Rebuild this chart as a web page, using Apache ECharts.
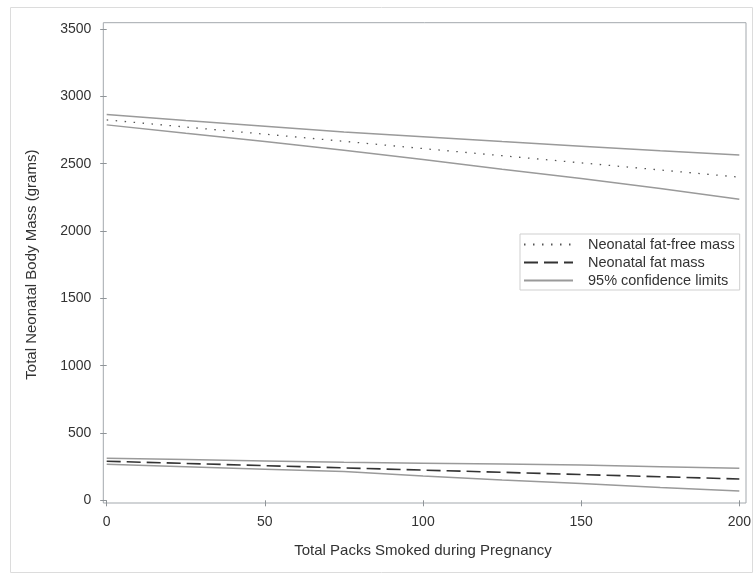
<!DOCTYPE html>
<html>
<head>
<meta charset="utf-8">
<script src="https://cdn.jsdelivr.net/npm/echarts@6/dist/echarts.min.js"></script>
<style>
  html, body { margin: 0; padding: 0; background: #fff; }
  #chart { width: 754px; height: 575px; }
</style>
</head>
<body>
<div id="chart"></div>
<script>
// packs smoked (x) and the estimated curves
var packs = [0, 25, 50, 75, 100, 125, 150, 175, 200];
var fatFree = [2825, 2772, 2719, 2666, 2612, 2559, 2506, 2453, 2400];
var fatFreeUpper = [2865, 2820, 2778, 2736, 2700, 2664, 2630, 2595, 2565];
var fatFreeLower = [2788, 2725, 2664, 2600, 2530, 2458, 2390, 2315, 2236];
var fat = [290, 274, 257, 241, 224, 208, 191, 175, 158];
var fatUpper = [312, 303, 292, 282, 276, 270, 262, 250, 238];
var fatLower = [267, 249, 231, 213, 180, 151, 125, 95, 69];

var xTicks = [0, 50, 100, 150, 200];
var yTicks = [0, 500, 1000, 1500, 2000, 2500, 3000, 3500];

function pairs(ys) {
  return packs.map(function (p, i) { return [p, ys[i]]; });
}

var txt = '#333';
var frame = '#a3a8ad';
var tick = '#8f9498';
var font = 'Liberation Sans, Arial, sans-serif';
var ciName = '95% confidence limits';

var myChart = echarts.init(document.getElementById('chart'));
var option = {
  animation: false,
  textStyle: { fontFamily: font },
  graphic: [{
    type: 'rect',
    shape: { x: 10.5, y: 7.5, width: 742, height: 565 },
    style: { fill: 'none', stroke: '#dcdcdc', lineWidth: 1 },
    silent: true
  }],
  grid: [
    { left: 106.7, right: 14, top: 29, bottom: 74.7 },
    { left: 103.3, right: 8, top: 22.7, bottom: 72, show: true, borderColor: frame, borderWidth: 1, backgroundColor: 'transparent' }
  ],
  legend: {
    left: 520, top: 234,
    orient: 'vertical',
    padding: [3, 5, 2, 3],
    itemGap: 3,
    itemWidth: 49, itemHeight: 14,
    borderColor: '#cfcfcf', borderWidth: 1,
    backgroundColor: '#fff',
    itemStyle: { color: 'transparent', borderWidth: 0, opacity: 0 },
    textStyle: { color: txt, fontSize: 14.5, fontFamily: font, padding: [0, 0, 0, 10] },
    data: ['Neonatal fat-free mass', 'Neonatal fat mass', ciName]
  },
  xAxis: [{
    type: 'value', gridIndex: 0,
    min: xTicks[0], max: xTicks[xTicks.length - 1], interval: 50,
    offset: 2.7,
    name: 'Total Packs Smoked during Pregnancy',
    nameLocation: 'middle', nameGap: 40,
    nameTextStyle: { color: txt, fontSize: 15, fontFamily: font },
    axisLine: { show: false },
    axisTick: { show: true, length: 6, lineStyle: { color: tick } },
    axisLabel: { color: txt, fontSize: 14, margin: 12, fontFamily: font },
    splitLine: { show: false }
  }, {
    type: 'value', gridIndex: 1, show: false, min: 0, max: 1
  }],
  yAxis: [{
    type: 'value', gridIndex: 0,
    min: yTicks[0], max: yTicks[yTicks.length - 1], interval: 500,
    offset: 3.4,
    name: 'Total Neonatal Body Mass (grams)',
    nameLocation: 'middle', nameGap: 64, nameRotate: 90,
    nameTextStyle: { color: txt, fontSize: 15, fontFamily: font },
    axisLine: { show: false },
    axisTick: { show: true, length: 6.5, lineStyle: { color: tick } },
    axisLabel: { color: txt, fontSize: 14, margin: 12, fontFamily: font, formatter: function (v) { return String(v); } },
    splitLine: { show: false }
  }, {
    type: 'value', gridIndex: 1, show: false, min: 0, max: 1
  }],
  series: [
    {
      name: 'Neonatal fat-free mass', type: 'line', symbol: 'none',
      xAxisIndex: 0, yAxisIndex: 0,
      data: pairs(fatFree),
      lineStyle: { color: '#555', width: 1.3, type: [1.5, 7.5] },
      itemStyle: { color: '#555' }
    },
    {
      name: 'Neonatal fat mass', type: 'line', symbol: 'none',
      data: pairs(fat),
      lineStyle: { color: '#333', width: 1.6, type: [14, 6] },
      itemStyle: { color: '#333' }
    },
    {
      name: ciName, type: 'line', symbol: 'none',
      data: pairs(fatFreeUpper),
      lineStyle: { color: '#9a9a9a', width: 1.5 },
      itemStyle: { color: '#9a9a9a' }
    },
    {
      name: ciName, type: 'line', symbol: 'none',
      data: pairs(fatFreeLower),
      lineStyle: { color: '#9a9a9a', width: 1.5 },
      itemStyle: { color: '#9a9a9a' }
    },
    {
      name: ciName, type: 'line', symbol: 'none',
      data: pairs(fatUpper),
      lineStyle: { color: '#9a9a9a', width: 1.5 },
      itemStyle: { color: '#9a9a9a' }
    },
    {
      name: ciName, type: 'line', symbol: 'none',
      data: pairs(fatLower),
      lineStyle: { color: '#9a9a9a', width: 1.5 },
      itemStyle: { color: '#9a9a9a' }
    }
  ]
};
myChart.setOption(option);
</script>
</body>
</html>
